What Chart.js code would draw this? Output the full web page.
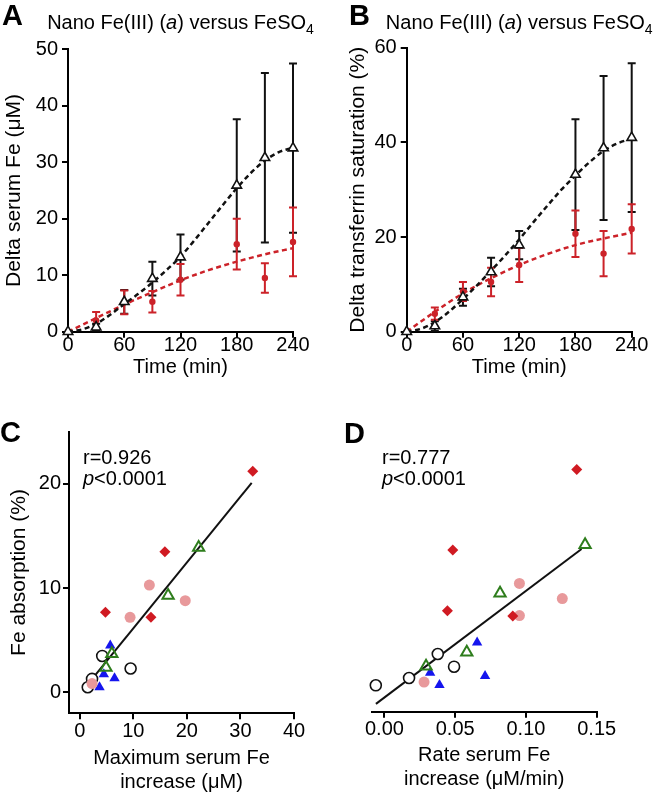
<!DOCTYPE html>
<html><head><meta charset="utf-8">
<script src="https://cdn.jsdelivr.net/npm/chart.js@4.4.1/dist/chart.umd.min.js"></script>
<style>
html,body{margin:0;padding:0;background:#fff;}
#wrap{position:relative;width:655px;height:800px;overflow:hidden;}
#wrap canvas{position:absolute;left:0;top:0;}
</style></head><body>
<div id="wrap">
<canvas id="cA" width="655" height="800"></canvas>
<canvas id="cB" width="655" height="800"></canvas>
<canvas id="cC" width="655" height="800"></canvas>
<canvas id="cD" width="655" height="800"></canvas>
</div>
<script>
// ---------------- DATA ----------------
// Panels A & B: sampling times (min)
const timeMin = [0, 30, 60, 90, 120, 180, 210, 240];
const timeTicks = [0, 60, 120, 180, 240];

// A: delta serum Fe (uM)
const serumFeNano    = [0, 0.8, 5.3, 9.4, 13.2, 25.9, 30.8, 32.5];
const serumFeNanoErr = [0, 0.6, 2.1, 3.0, 4.0, 11.7, 15.0, 15.0];
const serumFeSO4     = [0, 2.0, 5.2, 5.3, 9.2, 15.5, 9.5, 15.9];
const serumFeSO4Err  = [0, 1.5, 2.1, 1.9, 2.8, 4.5, 2.6, 6.1];
const serumTicks = [0, 10, 20, 30, 40, 50];
// A: fitted curves
const fitTimeNano = [0, 15, 30, 45, 60, 75, 90, 105, 120, 135, 150, 165, 180, 195, 210, 225, 240];
const fitSerumNano = [0, 0.4, 1.4, 3.0, 4.9, 6.7, 8.7, 10.9, 13.3, 16.2, 19.3, 22.4, 25.4, 28.1, 30.3, 31.8, 32.6];
const fitTimeSO4 = [0, 30, 60, 90, 120, 150, 180, 210, 240];
const fitSerumSO4 = [0, 2.4, 4.8, 7.0, 9.1, 10.9, 12.4, 13.7, 14.8];

// B: delta transferrin saturation (%)
const tsatNano    = [0, 1.2, 7.3, 12.6, 18.3, 33.2, 38.8, 41.0];
const tsatNanoErr = [0, 1.0, 1.8, 3.0, 3.0, 11.7, 15.2, 15.7];
const tsatSO4     = [0, 3.8, 8.5, 10.5, 14.1, 20.7, 16.5, 21.7];
const tsatSO4Err  = [0, 1.3, 2.0, 3.0, 3.6, 4.9, 4.8, 5.2];
const tsatTicks = [0, 20, 40, 60];
const fitTsatNano = [0, 0.6, 2.0, 4.2, 6.9, 9.8, 12.9, 16.1, 19.5, 23.1, 26.6, 30.0, 33.0, 35.8, 38.2, 39.8, 40.8];
const fitTsatSO4 = [0, 4.2, 8.1, 11.3, 14.1, 16.4, 18.3, 19.7, 20.9];

// C: Fe absorption (%) vs maximum serum Fe increase (uM)
const maxFeDiamond = [32.3, 15.9, 4.8, 13.3];
const absDiamondC  = [21.2, 13.5, 7.7, 7.2];
const maxFePink    = [13.0, 9.4, 19.7, 2.3];
const absPinkC     = [10.3, 7.2, 8.8, 0.85];
const maxFeGreen   = [22.2, 16.5, 6.0, 4.9];
const absGreenC    = [13.9, 9.3, 3.7, 2.4];
const maxFeBlue    = [5.7, 4.5, 6.5, 3.7];
const absBlueC     = [4.5, 1.75, 1.35, 0.5];
const maxFeOpen    = [4.2, 9.5, 2.3, 1.5];
const absOpenC     = [3.5, 2.3, 1.3, 0.5];
const regC_x = [1.3, 32.1];
const regC_y = [0.65, 20.1];
const maxFeTicks = [0, 10, 20, 30, 40];
const absTicks = [0, 10, 20];

// D: Fe absorption (%) vs rate of serum Fe increase (uM/min)
const rateDiamond = [0.1359, 0.0483, 0.0445, 0.0907];
const absDiamondD = [21.4, 13.7, 7.9, 7.4];
const ratePink    = [0.0954, 0.1257, 0.0954, 0.0280];
const absPinkD    = [10.5, 9.06, 7.43, 1.08];
const rateGreen   = [0.1418, 0.0817, 0.0582, 0.0294];
const absGreenD   = [14.2, 9.57, 3.92, 2.6];
const rateBlue    = [0.0655, 0.0323, 0.0711, 0.0389];
const absBlueD    = [4.85, 1.98, 1.66, 0.8];
const rateOpen    = [0.0377, 0.0492, 0.0174, -0.0061];
const absOpenD    = [3.76, 2.55, 1.47, 0.77];
const regD_x = [-0.006, 0.1393];
const regD_y = [-1.0, 13.8];
const rateTicks = [0, 0.05, 0.10, 0.15];

// ---------------- STYLE ----------------
const FONT = "'Liberation Sans', Arial, Helvetica, sans-serif";
const BLACK = '#111111', RED = '#cc2229', PINK = '#e8999b', GREEN = '#2e7d1c', BLUE = '#1515ee', DRED = '#d01a22';
const PAGE_W = 655, PAGE_H = 800;

function pts(xs, ys) { return xs.map((x, i) => ({x: x, y: ys[i]})); }

const errorBars = {
  id: 'errorBars',
  beforeDatasetsDraw(chart) {
    const ctx = chart.ctx, xs = chart.scales.x, ys = chart.scales.y;
    chart.data.datasets.forEach(ds => {
      if (!ds.errors) return;
      ctx.save();
      ctx.strokeStyle = ds.errorColor; ctx.lineWidth = 2;
      ds.data.forEach((p, j) => {
        const e = ds.errors[j]; if (!e) return;
        const x = xs.getPixelForValue(p.x);
        const y1 = ys.getPixelForValue(p.y - e), y2 = ys.getPixelForValue(p.y + e);
        ctx.beginPath();
        ctx.moveTo(x, y1); ctx.lineTo(x, y2);
        ctx.moveTo(x - 4, y1); ctx.lineTo(x + 4, y1);
        ctx.moveTo(x - 4, y2); ctx.lineTo(x + 4, y2);
        ctx.stroke();
      });
      ctx.restore();
    });
  }
};

const richText = {
  id: 'richText',
  afterDraw(chart, args, opts) {
    const ctx = chart.ctx;
    (opts.items || []).forEach(it => {
      ctx.save();
      ctx.fillStyle = '#000';
      ctx.textBaseline = 'alphabetic';
      let w = 0;
      it.parts.forEach(p => { ctx.font = p.font; w += ctx.measureText(p.t).width; });
      let x = it.align === 'center' ? it.x - w / 2 : it.x;
      it.parts.forEach(p => {
        ctx.font = p.font; ctx.textAlign = 'left';
        ctx.fillText(p.t, x, it.y + (p.dy || 0));
        x += ctx.measureText(p.t).width;
      });
      ctx.restore();
    });
  }
};

function xAxis(o) {
  return {
    type: 'linear', position: 'bottom', min: o.min, max: o.max,
    afterBuildTicks: s => { s.ticks = o.ticks.map(v => ({value: v})); },
    afterFit: s => { s.height = o.height; },
    grid: {display: true, drawOnChartArea: false, drawTicks: true, tickLength: 6, color: '#000', lineWidth: 2},
    border: {display: true, color: '#000', width: 2},
    ticks: {color: '#000', font: {family: FONT, size: 20}, padding: o.tickPad, maxRotation: 0, autoSkip: false,
            callback: v => o.fmt ? o.fmt(v) : String(v)},
    title: {display: true, text: o.title, color: '#000', font: {family: FONT, size: 20, lineHeight: 1.2}, padding: {top: 0, bottom: 0}}
  };
}
function yAxis(o) {
  if (o.hidden) return {type: 'linear', display: false, min: o.min, max: o.max};
  return {
    type: 'linear', position: 'left', min: o.min, max: o.max,
    afterBuildTicks: s => { s.ticks = o.ticks.map(v => ({value: v})); },
    afterFit: s => { s.width = o.width; },
    grid: {display: true, drawOnChartArea: false, drawTicks: true, tickLength: 6, color: '#000', lineWidth: 2},
    border: {display: true, color: '#000', width: 2},
    ticks: {color: '#000', font: {family: FONT, size: 20}, padding: o.tickPad, autoSkip: false},
    title: {display: true, text: o.title, color: '#000', font: {family: FONT, size: 21, lineHeight: 1.2}, padding: {top: 2, bottom: 0}}
  };
}
function padding(area, W, H) {
  return {left: area.left - W, top: area.top, right: PAGE_W - area.right, bottom: PAGE_H - area.bottom - H};
}
function baseOpts(area, W, H, x, y, items) {
  return {
    responsive: false, animation: false, events: [],
    layout: {padding: padding(area, W, H)},
    scales: {x: x, y: y},
    plugins: {legend: {display: false}, tooltip: {enabled: false}, richText: {items: items}}
  };
}
function titleParts() {
  const f = '20px ' + FONT;
  return [
    {t: 'Nano Fe(III) (', font: f},
    {t: 'a', font: 'italic ' + f},
    {t: ') versus FeSO', font: f},
    {t: '4', font: '14px ' + FONT, dy: 5}
  ];
}
const letterFont = 'bold 29px ' + FONT;
const annFont = '20px ' + FONT;

function timeCourse(id, area, W, yMax, yTicks, yTitle, nano, nanoErr, so4, so4Err, fitNano, fitSO4, letterX, letterY) {
  const H = 48;
  new Chart(document.getElementById(id), {
    type: 'scatter',
    data: {datasets: [
      {data: pts(timeMin, nano), errors: nanoErr, errorColor: BLACK, pointStyle: 'triangle', pointRadius: 5.5,
       backgroundColor: '#fff', borderColor: BLACK, borderWidth: 1.6, showLine: false, clip: false},
      {data: pts(timeMin, so4), errors: so4Err, errorColor: RED, pointStyle: 'circle', pointRadius: 3.2,
       backgroundColor: RED, borderColor: RED, borderWidth: 0, showLine: false, clip: false},
      {data: pts(fitTimeNano, fitNano), showLine: true, pointRadius: 0, borderColor: BLACK, borderWidth: 2.5,
       borderDash: [5, 3.5], cubicInterpolationMode: 'monotone', clip: false},
      {data: pts(fitTimeSO4, fitSO4), showLine: true, pointRadius: 0, borderColor: RED, borderWidth: 2.5,
       borderDash: [5, 3.5], cubicInterpolationMode: 'monotone', clip: false}
    ]},
    options: baseOpts(area, W, H,
      xAxis({min: 0, max: 240, ticks: timeTicks, title: 'Time (min)', height: H, tickPad: -4}),
      yAxis({min: 0, max: yMax, ticks: yTicks, title: yTitle, width: W, tickPad: 4}),
      [
        {parts: titleParts(), x: (area.left + area.right) / 2, y: 29, align: 'center'},
        {parts: [{t: letterX.t, font: letterFont}], x: letterX.x, y: letterY}
      ]),
    plugins: [errorBars, richText]
  });
}

timeCourse('cA', {left: 68, right: 293, top: 49.3, bottom: 331.7}, 68, 50, serumTicks, 'Delta serum Fe (\u03BCM)',
  serumFeNano, serumFeNanoErr, serumFeSO4, serumFeSO4Err, fitSerumNano, fitSerumSO4, {t: 'A', x: 2}, 25);
timeCourse('cB', {left: 406.7, right: 631.7, top: 47.7, bottom: 331.7}, 63.4, 60, tsatTicks, 'Delta transferrin saturation (%)',
  tsatNano, tsatNanoErr, tsatSO4, tsatSO4Err, fitTsatNano, fitTsatSO4, {t: 'B', x: 349}, 25);

function scatterSets(d) {
  return [
    {data: pts(d.dx, d.dy), pointStyle: 'rectRot', pointRadius: 5.5, backgroundColor: DRED, borderColor: DRED, borderWidth: 0},
    {data: pts(d.px, d.py), pointStyle: 'circle', pointRadius: 5.5, backgroundColor: PINK, borderColor: PINK, borderWidth: 0},
    {data: pts(d.gx, d.gy), pointStyle: 'triangle', pointRadius: 6.5, backgroundColor: 'rgba(255,255,255,0)', borderColor: GREEN, borderWidth: 2},
    {data: pts(d.bx, d.by), pointStyle: 'triangle', pointRadius: 6, backgroundColor: BLUE, borderColor: BLUE, borderWidth: 0},
    {data: pts(d.ox, d.oy), pointStyle: 'circle', pointRadius: 5.5, backgroundColor: '#fff', borderColor: BLACK, borderWidth: 1.6},
    {data: pts(d.rx, d.ry), showLine: true, pointRadius: 0, borderColor: BLACK, borderWidth: 2}
  ].map(s => Object.assign({showLine: false, clip: false}, s));
}

// C
(function () {
  const area = {left: 69, right: 294, top: 431.7, bottom: 713.3}, W = 64, H = 81;
  const sets = scatterSets({dx: maxFeDiamond, dy: absDiamondC, px: maxFePink, py: absPinkC, gx: maxFeGreen, gy: absGreenC,
    bx: maxFeBlue, by: absBlueC, ox: maxFeOpen, oy: absOpenC, rx: regC_x, ry: regC_y});
  new Chart(document.getElementById('cC'), {
    type: 'scatter', data: {datasets: sets},
    options: baseOpts(area, W, H,
      xAxis({min: -2, max: 40, ticks: maxFeTicks, title: ['Maximum serum Fe', 'increase (\u03BCM)'], height: H, tickPad: 0}),
      yAxis({min: -2, max: 25, ticks: absTicks, title: 'Fe absorption (%)', width: W, tickPad: 2}),
      [
        {parts: [{t: 'C', font: letterFont}], x: 0, y: 442},
        {parts: [{t: 'r=0.926', font: annFont}], x: 83, y: 464},
        {parts: [{t: 'p', font: 'italic ' + annFont}, {t: '<0.0001', font: annFont}], x: 83, y: 485}
      ]),
    plugins: [richText]
  });
})();

// D
(function () {
  const area = {left: 371.7, right: 596.7, top: 431.7, bottom: 711.7}, H = 80;
  const sets = scatterSets({dx: rateDiamond, dy: absDiamondD, px: ratePink, py: absPinkD, gx: rateGreen, gy: absGreenD,
    bx: rateBlue, by: absBlueD, ox: rateOpen, oy: absOpenD, rx: regD_x, ry: regD_y});
  new Chart(document.getElementById('cD'), {
    type: 'scatter', data: {datasets: sets},
    options: baseOpts(area, 0, H,
      xAxis({min: -0.009, max: 0.15, ticks: rateTicks, fmt: v => v.toFixed(2), title: ['Rate serum Fe', 'increase (\u03BCM/min)'], height: H, tickPad: 0}),
      yAxis({hidden: true, min: -1.75, max: 25}),
      [
        {parts: [{t: 'D', font: letterFont}], x: 344, y: 443},
        {parts: [{t: 'r=0.777', font: annFont}], x: 382, y: 464},
        {parts: [{t: 'p', font: 'italic ' + annFont}, {t: '<0.0001', font: annFont}], x: 382, y: 485}
      ]),
    plugins: [richText]
  });
})();
</script>
</body></html>
